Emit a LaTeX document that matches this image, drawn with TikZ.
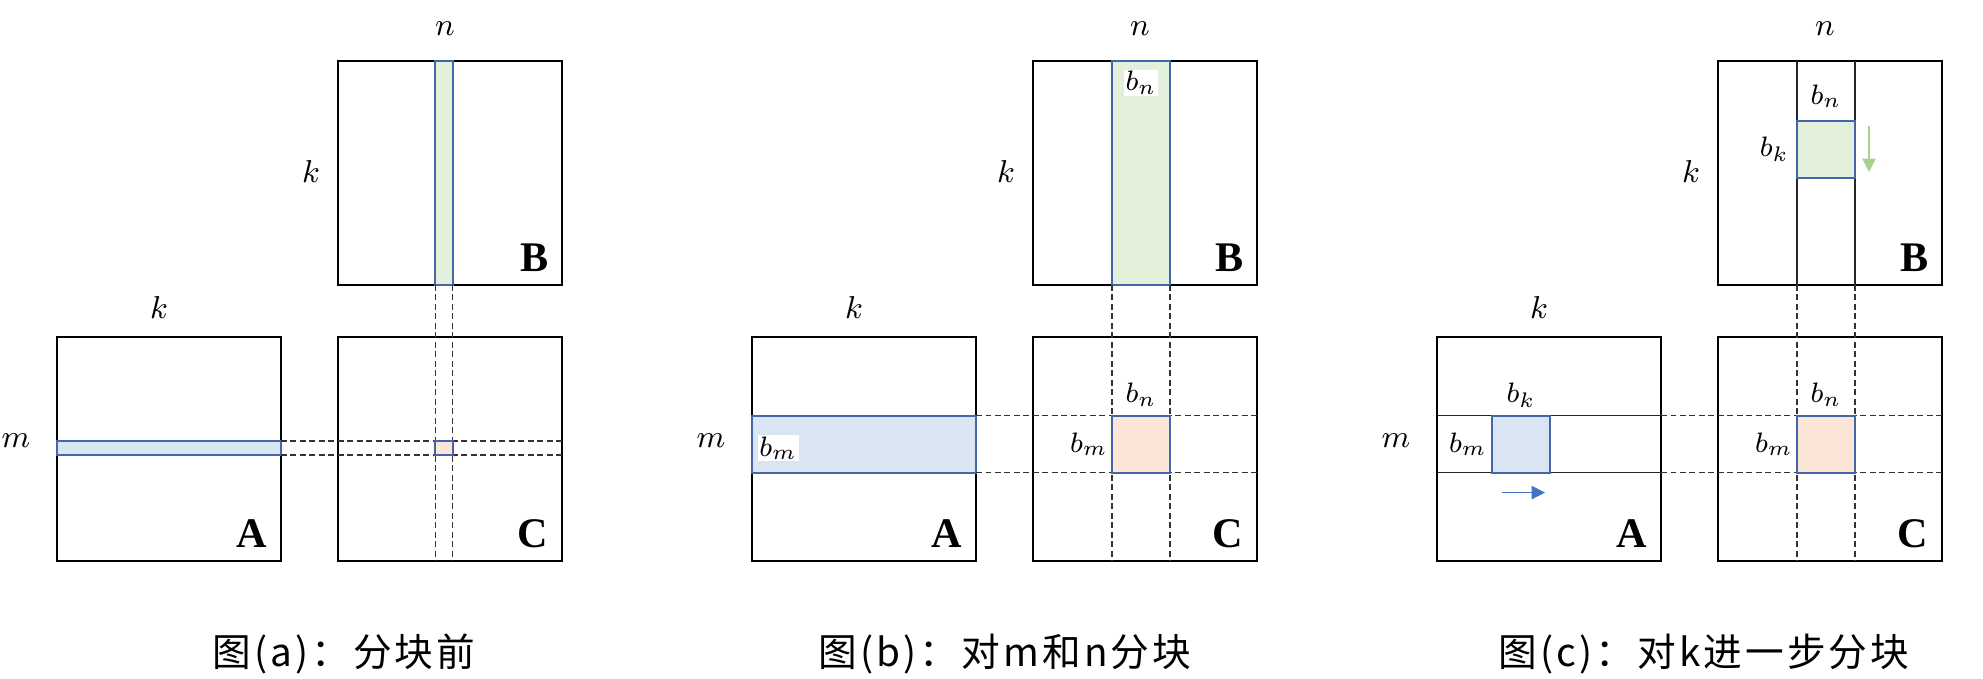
\documentclass[tikz,border=0pt]{standalone}
\usepackage{fontspec}
\usepackage{xcolor}
\usetikzlibrary{positioning,arrows.meta}
\newfontfamily\cjk[LetterSpace=8]{Noto Sans CJK SC}
\newfontfamily\matfont{Liberation Serif}
\definecolor{blkgreen}{RGB}{226, 239, 218}
\definecolor{blkblue}{RGB}{218, 229, 243}
\definecolor{blkorange}{RGB}{251, 229, 214}
\definecolor{edgeblue}{RGB}{68, 102, 168}
\definecolor{arrowblue}{RGB}{68, 114, 196}
\definecolor{arrowgreen}{RGB}{169, 209, 142}

\begin{document}
\begin{tikzpicture}[
    mat/.style={draw, line width=0.6pt, minimum size=2.24cm, inner sep=0pt, outer sep=0pt},
    blk/.style={draw=edgeblue, line width=0.6pt, inner sep=0pt, outer sep=0pt},
    guide/.style={draw=black!80, line width=0.35pt, dash pattern=on 1.7pt off 1pt},
    rule/.style={draw=black!85, line width=0.3pt},
    lbl/.style={font=\fontsize{9}{11}\selectfont, inner sep=1pt},
    blbl/.style={font=\fontsize{8.5}{10}\selectfont, inner sep=1pt},
    tag/.style={font=\matfont\bfseries\fontsize{12}{14}\selectfont, inner sep=0pt, anchor=base east},
    captext/.style={font=\cjk\fontsize{11}{13}\selectfont},
    mv/.style={line width=0.4pt, -{Triangle[length=3.8pt, width=3.8pt]}}
]
    \useasboundingbox (-0.57,-1.18) rectangle (19.26,5.61);

    % (a) no blocking yet
    \node[mat] (Aa) at (1.12,1.12) {};
    \node[mat] (Ba) at (3.93,3.88) {};
    \node[mat] (Ca) at (3.93,1.12) {};
    \node[blk, fill=blkgreen, minimum width=0.175cm, minimum height=2.24cm] (ga) at (3.87,3.88) {};
    \node[blk, fill=blkblue, minimum width=2.24cm, minimum height=0.14cm] (ba) at (1.12,1.13) {};
    \draw[guide] (ga.south west) -- (ga.south west |- Ca.south);
    \draw[guide] (ga.south east) -- (ga.south east |- Ca.south);
    \draw[guide] (ba.north east) -- (ba.north east -| Ca.east);
    \draw[guide] (ba.south east) -- (ba.south east -| Ca.east);
    \node[blk, fill=blkorange, minimum width=0.175cm, minimum height=0.14cm] (oa) at (ga |- ba) {};

    \node[lbl] (na) at (3.88,5.32) {$n$};
    \node[lbl] (kba) at (2.54,3.89) {$k$};
    \node[lbl] (kaa) at (1.02,2.53) {$k$};
    \node[lbl] (ma) at (-0.41,1.20) {$m$};
    \node[tag] (tAa) at ([xshift=-0.13cm, yshift=0.13cm]Aa.south east) {A};
    \node[tag] (tBa) at ([xshift=-0.13cm, yshift=0.13cm]Ba.south east) {B};
    \node[tag] (tCa) at ([xshift=-0.13cm, yshift=0.13cm]Ca.south east) {C};
    \node[captext] (capa) at (2.87,-0.93) {图(a)：分块前};

    % (b) blocking over m and n
    \begin{scope}[xshift=6.95cm]
    \node[mat] (Ab) at (1.12,1.12) {};
    \node[mat] (Bb) at (3.93,3.88) {};
    \node[mat] (Cb) at (3.93,1.12) {};
    \node[blk, fill=blkgreen, minimum width=0.58cm, minimum height=2.24cm] (gb) at (3.89,3.88) {};
    \node[blk, fill=blkblue, minimum width=2.24cm, minimum height=0.57cm] (bb) at (1.12,1.169) {};
    \draw[guide] (gb.south west) -- (gb.south west |- Cb.south);
    \draw[guide] (gb.south east) -- (gb.south east |- Cb.south);
    \draw[guide] (bb.north east) -- (bb.north east -| Cb.east);
    \draw[guide] (bb.south east) -- (bb.south east -| Cb.east);
    \node[blk, fill=blkorange, minimum width=0.58cm, minimum height=0.57cm] (ob) at (gb |- bb) {};

    \node[blbl, fill=white, inner sep=0.5pt, below=0.08 of gb.north] (bnB) {$b_n$};
    \node[blbl, fill=white, inner sep=0.5pt, anchor=west] (bmA) at ([xshift=0.05cm, yshift=-0.04cm]bb.west) {$b_m$};
    \node[blbl, above=0.05 of ob] (bnC) {$b_n$};
    \node[blbl, left=0.0 of ob] (bmC) {$b_m$};

    \node[lbl] (nb) at (3.88,5.32) {$n$};
    \node[lbl] (kbb) at (2.54,3.89) {$k$};
    \node[lbl] (kab) at (1.02,2.53) {$k$};
    \node[lbl] (mb) at (-0.41,1.20) {$m$};
    \node[tag] (tAb) at ([xshift=-0.13cm, yshift=0.13cm]Ab.south east) {A};
    \node[tag] (tBb) at ([xshift=-0.13cm, yshift=0.13cm]Bb.south east) {B};
    \node[tag] (tCb) at ([xshift=-0.13cm, yshift=0.13cm]Cb.south east) {C};
    \node[captext] (capb) at (2.53,-0.93) {图(b)：对m和n分块};
    \end{scope}

    % (c) further blocking over k
    \begin{scope}[xshift=13.8cm]
    \node[mat] (Ac) at (1.12,1.12) {};
    \node[mat] (Bc) at (3.93,3.88) {};
    \node[mat] (Cc) at (3.93,1.12) {};
    \coordinate (gcpos) at (3.89,4.115);
    \coordinate (bcpos) at (0.84,1.169);
    \draw[rule] (3.60,0 |- Bc.south) -- (3.60,0 |- Bc.north);
    \draw[rule] (4.18,0 |- Bc.south) -- (4.18,0 |- Bc.north);
    \draw[rule] (Ac.west |- 0,1.454) -- (Ac.east |- 0,1.454);
    \draw[rule] (Ac.west |- 0,0.884) -- (Ac.east |- 0,0.884);
    \node[blk, fill=blkgreen, minimum width=0.58cm, minimum height=0.57cm] (gc) at (gcpos) {};
    \node[blk, fill=blkblue, minimum width=0.58cm, minimum height=0.57cm] (bc) at (bcpos) {};
    \draw[guide] (gc.west |- Bc.south) -- (gc.west |- Cc.south);
    \draw[guide] (gc.east |- Bc.south) -- (gc.east |- Cc.south);
    \draw[guide] (Ac.east |- bc.north) -- (Cc.east |- bc.north);
    \draw[guide] (Ac.east |- bc.south) -- (Cc.east |- bc.south);
    \node[blk, fill=blkorange, minimum width=0.58cm, minimum height=0.57cm] (oc) at (gc |- bc) {};

    % moving directions
    \draw[mv, arrowgreen] ([xshift=0.14cm, yshift=-0.05cm]gc.north east) -- ([xshift=0.14cm, yshift=0.06cm]gc.south east);
    \draw[mv, arrowblue] ([xshift=0.1cm, yshift=-0.2cm]bc.south west) -- ([xshift=-0.05cm, yshift=-0.2cm]bc.south east);

    \node[blbl, above=0.09 of gc] (bnB2) {$b_n$};
    \node[blbl, left=0.04 of gc] (bkB) {$b_k$};
    \node[blbl, above=0.04 of bc] (bkA) {$b_k$};
    \node[blbl, left=0.01 of bc] (bmA2) {$b_m$};
    \node[blbl, above=0.05 of oc] (bnC2) {$b_n$};
    \node[blbl, left=0.0 of oc] (bmC2) {$b_m$};

    \node[lbl] (nc) at (3.88,5.32) {$n$};
    \node[lbl] (kbc) at (2.54,3.89) {$k$};
    \node[lbl] (kac) at (1.02,2.53) {$k$};
    \node[lbl] (mc) at (-0.41,1.20) {$m$};
    \node[tag] (tAc) at ([xshift=-0.13cm, yshift=0.13cm]Ac.south east) {A};
    \node[tag] (tBc) at ([xshift=-0.13cm, yshift=0.13cm]Bc.south east) {B};
    \node[tag] (tCc) at ([xshift=-0.13cm, yshift=0.13cm]Cc.south east) {C};
    \node[captext] (capc) at (2.67,-0.93) {图(c)：对k进一步分块};
    \end{scope}
\end{tikzpicture}
\end{document}
